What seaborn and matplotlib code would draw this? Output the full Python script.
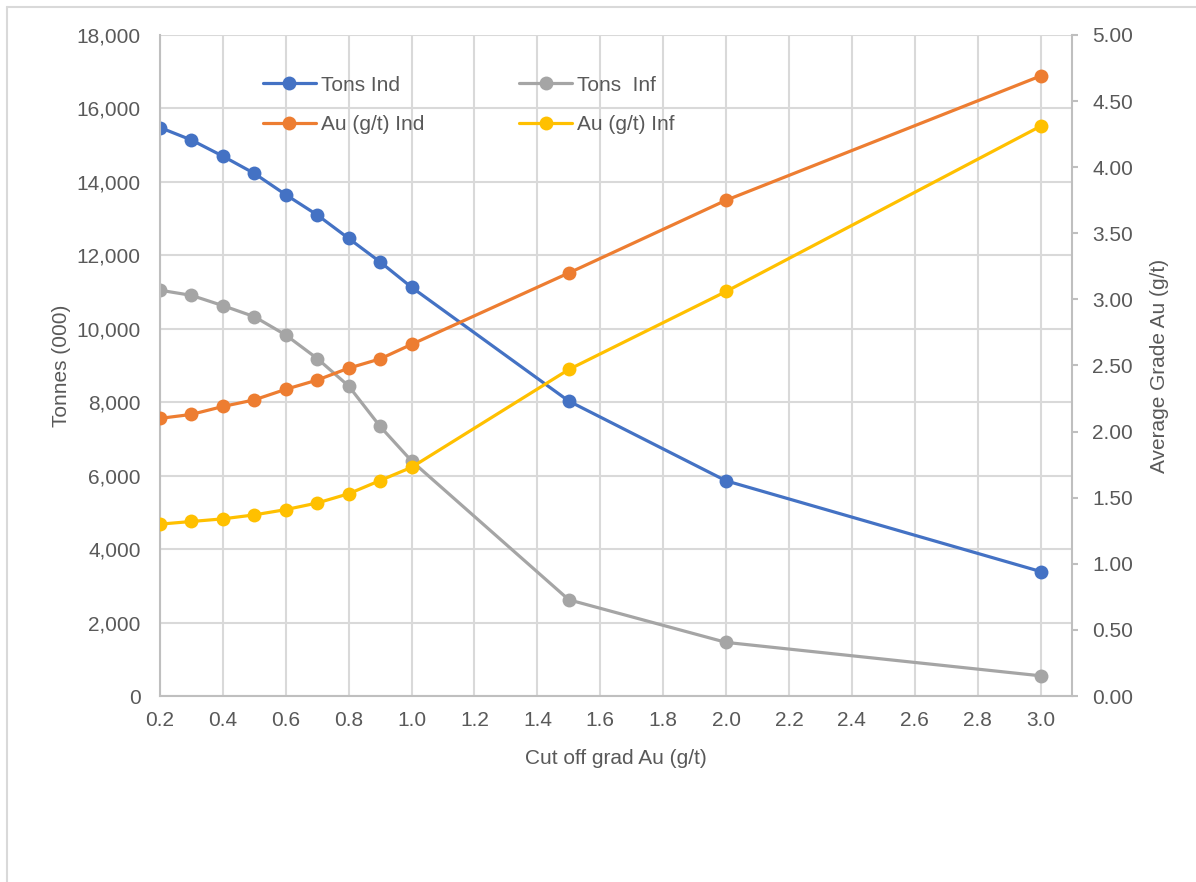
import numpy as np
import pandas as pd
import matplotlib
matplotlib.use("Agg")
import matplotlib.pyplot as plt
import seaborn as sns
from matplotlib.lines import Line2D
from matplotlib.ticker import FuncFormatter, MultipleLocator

# values
cutoff   = [0.2, 0.3, 0.4, 0.5, 0.6, 0.7, 0.8, 0.9, 1.0, 1.5, 2.0, 3.0]
tons_ind = [15480, 15140, 14700, 14230, 13650, 13100, 12460, 11820, 11130, 8030, 5860, 3390]
tons_inf = [11050, 10910, 10630, 10330, 9830, 9190, 8440, 7340, 6400, 2620, 1460, 550]
au_ind   = [2.10, 2.13, 2.19, 2.24, 2.32, 2.39, 2.48, 2.55, 2.66, 3.20, 3.75, 4.69]
au_inf   = [1.30, 1.32, 1.34, 1.37, 1.41, 1.46, 1.53, 1.63, 1.73, 2.47, 3.06, 4.31]

labels = ["Tons Ind", "Tons  Inf", "Au (g/t) Ind", "Au (g/t) Inf"]
colors = ["#4472C4", "#A5A5A5", "#ED7D31", "#FFC000"]

TEXT = "#595959"
GRID = "#D9D9D9"

sns.set_style("white")
plt.rcParams["font.family"] = ["Liberation Sans", "DejaVu Sans"]
plt.rcParams["font.size"] = 15

fig = plt.figure(figsize=(11.96, 8.82), dpi=100)
W, H = 1196, 882
ax = fig.add_axes([160 / W, 1 - 696 / H, (1072 - 160) / W, (696 - 35) / H])
ax2 = ax.twinx()

line_kw = dict(marker="o", markersize=10, linewidth=2.3, markeredgewidth=0)

sns.lineplot(x=cutoff, y=tons_ind, ax=ax, color=colors[0], label=labels[0], **line_kw)
sns.lineplot(x=cutoff, y=tons_inf, ax=ax, color=colors[1], label=labels[1], **line_kw)
sns.lineplot(x=cutoff, y=au_ind, ax=ax2, color=colors[2], label=labels[2], **line_kw)
sns.lineplot(x=cutoff, y=au_inf, ax=ax2, color=colors[3], label=labels[3], **line_kw)

ax.set_xlim(0.2, 3.1)
ax.set_ylim(0, 18000)
ax2.set_ylim(0, 5)
ax.xaxis.set_major_locator(MultipleLocator(0.2))
ax.yaxis.set_major_locator(MultipleLocator(2000))
ax2.yaxis.set_major_locator(MultipleLocator(0.5))
ax.xaxis.set_major_formatter(FuncFormatter(lambda v, p: f"{v:.1f}"))
ax.yaxis.set_major_formatter(FuncFormatter(lambda v, p: f"{v:,.0f}"))
ax2.yaxis.set_major_formatter(FuncFormatter(lambda v, p: f"{v:.2f}"))

ax.grid(True, color=GRID, linewidth=1.5)
ax2.grid(False)
ax.set_axisbelow(True)

for a in (ax, ax2):
    for s in a.spines.values():
        s.set_visible(False)
ax.spines["left"].set_visible(True)
ax.spines["bottom"].set_visible(True)
ax2.spines["right"].set_visible(True)
for s in (ax.spines["left"], ax.spines["bottom"], ax2.spines["right"]):
    s.set_color("#BFBFBF")
    s.set_linewidth(1.5)

ax.tick_params(axis="x", length=0, pad=10.5, labelcolor=TEXT, labelsize=15)
ax.tick_params(axis="y", length=0, pad=14, labelcolor=TEXT, labelsize=15)
ax2.tick_params(axis="y", length=4.5, width=1.5, color="#BFBFBF", pad=10,
                labelcolor=TEXT, labelsize=15)

ax.set_xlabel("Cut off grad Au (g/t)", color=TEXT, fontsize=15, labelpad=14)
ax.set_ylabel("Tonnes (000)", color=TEXT, fontsize=15, labelpad=4)
ax2.set_ylabel("Average Grade Au (g/t)", color=TEXT, fontsize=15, labelpad=12)

# single legend with all four series, two columns, no frame
h1, l1 = ax.get_legend_handles_labels()
h2, l2 = ax2.get_legend_handles_labels()
ax.get_legend().remove()
ax2.get_legend().remove()
handles = [h1[0], h2[0], h1[1], h2[1]]
names = [l1[0], l2[0], l1[1], l2[1]]
ax2.legend(handles, names, ncol=2, frameon=False, loc="upper left",
           bbox_to_anchor=(0.092, 0.967), handlelength=2.55, handletextpad=0.25,
           columnspacing=4.55, labelspacing=1.0, fontsize=15, labelcolor=TEXT)

# chart-area border (top and left edges visible in the reference)
fig.add_artist(Line2D([7 / W, 1], [1 - 7 / H, 1 - 7 / H], color=GRID, linewidth=1.5))
fig.add_artist(Line2D([7 / W, 7 / W], [0, 1 - 7 / H], color=GRID, linewidth=1.5))

fig.savefig("out.png", dpi=100)
